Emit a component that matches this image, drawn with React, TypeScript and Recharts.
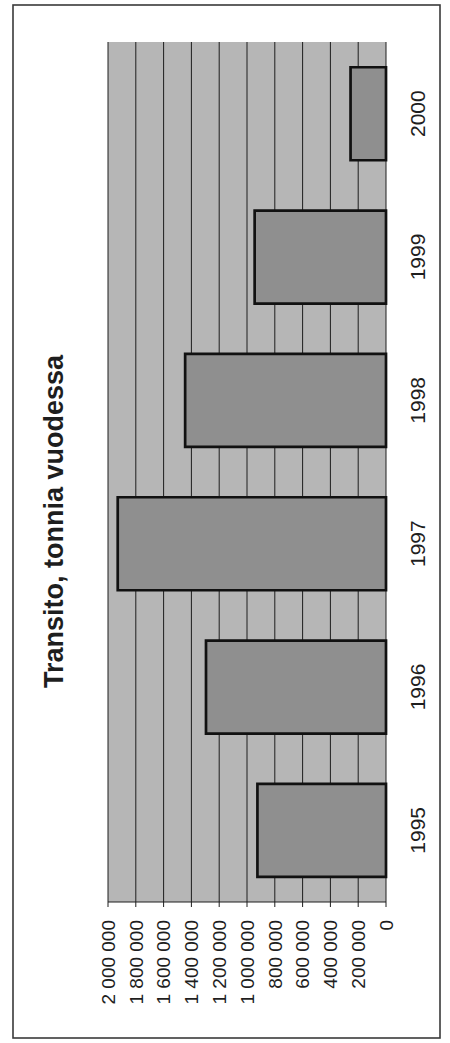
import React from 'react';
import { BarChart, Bar, XAxis, YAxis, CartesianGrid } from 'recharts';

const years = ['1995', '1996', '1997', '1998', '1999', '2000'];
const tonnes = [925000, 1295000, 1930000, 1445000, 945000, 255000];
const valueTicks = [0, 200000, 400000, 600000, 800000, 1000000, 1200000, 1400000, 1600000, 1800000, 2000000];
const bandEdges = [0, 1, 2, 3, 4, 5, 6];
const title = 'Transito, tonnia vuodessa';

const data = years.map((y, i) => ({ year: y, tonnes: tonnes[i] }));

const fmt = (v: number) => String(v).replace(/\B(?=(\d{3})+(?!\d))/g, ' ');

const FONT = '"Liberation Sans", Arial, Helvetica, sans-serif';
const INK = '#1e1e1e';

const EdgeTick = (p: any) => (
  <line x1={p.x} x2={p.x} y1={p.y - 7} y2={p.y + 7} stroke={INK} strokeWidth={1} />
);

const css = `
.chart-rot, .chart-rot svg, .chart-rot text, .chart-rot tspan, .recharts-wrapper text, .recharts-text {
  font-family: "Liberation Sans", Arial, Helvetica, sans-serif !important;
}
`;

export default function App() {
  return (
    <div style={{ position: 'fixed', left: 0, top: 0, width: 450, height: 1043, overflow: 'hidden', background: '#fff' }}>
      <style>{css}</style>
      <div
        className="chart-rot"
        style={{
          position: 'absolute',
          left: 0,
          top: 0,
          width: 1043,
          height: 450,
          transformOrigin: '0 0',
          transform: 'translateY(1043px) rotate(-90deg)',
          fontFamily: FONT,
        }}
      >
        <div style={{ position: 'absolute', left: 0, top: 0 }}>
          <BarChart
            width={1043}
            height={450}
            data={data}
            margin={{ top: 108, right: 42, bottom: 34, left: 0 }}
            barCategoryGap="17.5%"
            style={{ fontFamily: FONT }}
          >
            <CartesianGrid xAxisId="cat" vertical={false} fill="#b6b6b6" fillOpacity={1} stroke={INK} strokeOpacity={1} />
            <XAxis
              xAxisId="edges"
              type="number"
              domain={[0, 6]}
              ticks={bandEdges}
              allowDataOverflow
              height={0}
              axisLine={{ stroke: INK, strokeWidth: 1 }}
              tickLine={false}
              tickSize={0}
              tickMargin={0}
              tick={EdgeTick}
            />
            <XAxis
              xAxisId="cat"
              dataKey="year"
              height={30}
              axisLine={false}
              tickLine={false}
              tickSize={0}
              tickMargin={24}
              tick={{ fontSize: 21, fill: INK, fontFamily: FONT }}
            />
            <YAxis
              domain={[0, 2000000]}
              ticks={valueTicks}
              width={141}
              tickFormatter={fmt}
              tickSize={5}
              tickMargin={13}
              tick={{ fontSize: 19, fill: INK, fontFamily: FONT }}
              axisLine={{ stroke: INK, strokeWidth: 1 }}
              tickLine={{ stroke: INK, strokeWidth: 1 }}
              interval={0}
            />
            <YAxis yAxisId="r" orientation="right" width={0} tick={false} domain={[0, 1]} axisLine={{ stroke: INK, strokeWidth: 1 }} />
            <Bar
              xAxisId="cat"
              dataKey="tonnes"
              fill="#8f8f8f"
              stroke="#111"
              strokeWidth={2.7}
              isAnimationActive={false}
            />
          </BarChart>
        </div>
        <svg width={1043} height={450} style={{ position: 'absolute', left: 0, top: 0, pointerEvents: 'none' }}>
          <rect x={5} y={13} width={1033} height={427} fill="none" stroke="#3a3a3a" strokeWidth={1.6} />
          <text x={521.5} y={63} textAnchor="middle" fontFamily={FONT} fontWeight="bold" fontSize={27} fill={INK}>
            {title}
          </text>
        </svg>
      </div>
    </div>
  );
}
